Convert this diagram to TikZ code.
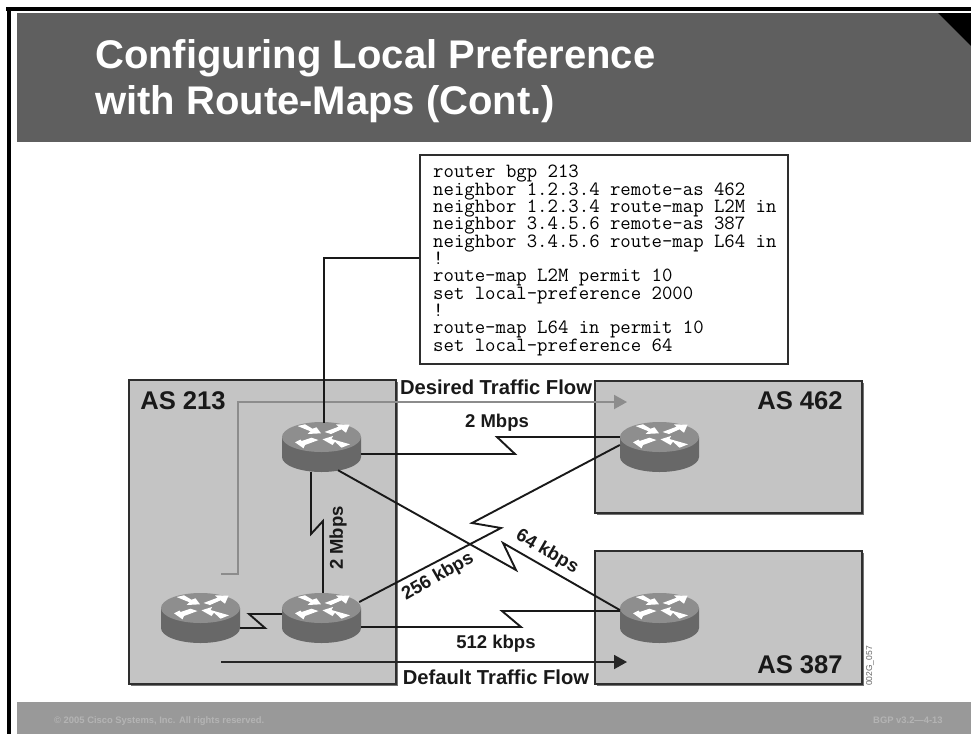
\documentclass[tikz,border=0pt]{standalone}
\usepackage{fontspec}
\setmainfont{Liberation Sans}
\usetikzlibrary{arrows.meta,calc}
\definecolor{hdr}{HTML}{5F5F5F}
\definecolor{ftr}{HTML}{999999}
\definecolor{ftxt}{HTML}{B4B4B4}
\definecolor{asbox}{HTML}{C4C4C4}
\definecolor{edge}{HTML}{2E2E2E}
\definecolor{rtop}{HTML}{8E8E8E}
\definecolor{rside}{HTML}{686868}
\definecolor{flowg}{HTML}{8C8C8C}
\tikzset{
  asregion/.style={fill=asbox,draw=edge,line width=1.2pt,inner sep=0pt},
  shadowbox/.style={fill=black!55,draw=none},
  aslabel/.style={font=\bfseries\fontsize{25.6}{28}\selectfont,anchor=base,inner sep=0pt,text=black!90},
  netlabel/.style={font=\bfseries\fontsize{20.2}{22}\selectfont,anchor=base,inner sep=0pt,text=black!90},
  baselabel/.style={font=\bfseries\fontsize{18.5}{20}\selectfont,anchor=base,inner sep=0pt,text=black!90},
  ratelabel/.style={font=\bfseries\fontsize{18.5}{20}\selectfont,inner sep=0pt,text=black!90},
  link/.style={draw=black!90,line width=1.9pt,line join=miter},
  feed/.style={draw=black!90,line width=2.6pt},
  routerbox/.style={minimum width=79pt,minimum height=50pt,inner sep=0pt,draw=none},
  flowdesired/.style={draw=flowg,line width=2pt,-{Triangle[length=13pt,width=14pt]}},
  flowdefault/.style={draw=black!85,line width=1.9pt,-{Triangle[length=13pt,width=14pt]}},
  foottext/.style={font=\bfseries\fontsize{9.4}{11}\selectfont,text=ftxt,inner sep=0pt,anchor=base},
}
\newcommand{\routerat}[3]{%
  \node[routerbox] (#1) at (#2,#3) {};
  \begin{scope}[shift={(#2,#3)}]
    \fill[rside] (-39.5,-10) -- (-39.5,10) arc[x radius=39.5,y radius=15,start angle=180,end angle=0] -- (39.5,-10) -- cycle;
    \fill[rtop] (0,-10) ellipse[x radius=39.5,y radius=15];
    \begin{scope}[shift={(0,-10)}]
      \fill[white] (-24,-11) -- (-16.5,-12.7) -- (-9,-8.3) -- (-5,-9.7) -- (-0.5,-3.7) -- (-14,-3) -- (-11,-5.7) -- cycle;
      \fill[white] (3,-5) -- (17,-10.3) -- (14.5,-12.7) -- (28,-12.3) -- (24.5,-4.3) -- (20,-7.7) -- (9.5,-3) -- cycle;
      \fill[white] (-10,0.7) -- (-20,4) -- (-21,2.5) -- (-26.5,5.3) -- (-18,11.3) -- (-16.5,8) -- (-3,3) -- cycle;
      \fill[white] (28.5,7.3) -- (20,10.7) -- (13.5,4.7) -- (11,8) -- (1,2.3) -- (11.5,-1) -- (10,2) -- cycle;
    \end{scope}
  \end{scope}
}
\begin{document}
\begin{tikzpicture}[x=1pt,y=-1pt]
\useasboundingbox (0,0) rectangle (971,734);
\fill[white] (0,0) rectangle (971,734);
% frame
\fill[black] (6,7) rectangle (971,11);
\fill[black] (7,7) rectangle (11,734);
% header and footer
\fill[hdr] (17,13) rectangle (971,142);
\fill[black] (938,13) -- (971,13) -- (971,46) -- cycle;
\fill[ftr] (17,702) rectangle (971,734);
\node[font=\bfseries\fontsize{40}{45}\selectfont,text=white,anchor=base west,inner sep=0pt] (title1) at (95,68) {Configuring Local Preference};
\node[font=\bfseries\fontsize{40}{45}\selectfont,text=white,anchor=base west,inner sep=0pt] (title2) at (95,114) {with Route-Maps (Cont.)};
\node[foottext,anchor=base west] (copy) at (54,723) {© 2005 Cisco Systems, Inc. All rights reserved.};
\node[foottext,anchor=base west] (ver) at (873,723) {BGP v3.2—4-13};
% AS regions
\fill[shadowbox] (131,382) rectangle (398,686);
\fill[shadowbox] (597,383) rectangle (864,515);
\fill[shadowbox] (597,553) rectangle (864,686);
\draw[asregion] (129,380) rectangle (396,684);
\draw[asregion] (595,381) rectangle (862,513);
\draw[asregion] (595,551) rectangle (862,684);
% code box
\fill[black!45] (421,156) rectangle (789,365);
\node[draw=edge,line width=1.2pt,fill=white,minimum width=368pt,minimum height=209pt,inner sep=0pt] (code) at (604,259.5) {};
\node[font=\ttfamily\fontsize{20.2}{17.35}\selectfont,align=left,anchor=north west,inner sep=0pt,text=black] (codetext) at (433,165) {router bgp 213\\neighbor 1.2.3.4 remote-as 462\\neighbor 1.2.3.4 route-map L2M in\\neighbor 3.4.5.6 remote-as 387\\neighbor 3.4.5.6 route-map L64 in\\!\\route-map L2M permit 10\\set local-preference 2000\\!\\route-map L64 in permit 10\\set local-preference 64};
% flows
\coordinate (ds) at (221,574);
\coordinate (de) at (627,402);
\coordinate (fs) at (221,662);
\coordinate (fe) at (627,662);
\draw[flowdesired] (ds) -- (238,574) -- (238,402) -- (de);
\draw[flowdefault] (fs) -- (fe);
% routers
\routerat{r1}{321.5}{447}
\routerat{r2}{321.5}{618}
\routerat{r3}{200.5}{618}
\routerat{r4}{659.5}{447}
\routerat{r5}{659.5}{618}
% links
\draw[feed] ([shift={(2.5,1)}]r1.north) -- ++(0,-165) coordinate (fk) -- (code.west |- fk);
\draw[link] ([shift={(0,7)}]r1.east) -- (515,454) -- (497,437) -- ([shift={(0,-10)}]r4.west);
\draw[link] ([shift={(-10.5,0)}]r1.south) -- (311,534) -- (323,521) -- ([shift={(1.5,0)}]r2.north);
\draw[link] ([shift={(16.5,-2)}]r1.south) -- (516,570) -- (503,543) -- ([shift={(0,-8)}]r5.west);
\draw[link] ([shift={(-2,-16)}]r2.east) -- (501,528) -- (472,523) -- ([shift={(0,-2)}]r4.west);
\draw[link] ([shift={(0,9)}]r2.east) -- (521,627) -- (502,611) -- ([shift={(0,-7)}]r5.west);
\draw[link] ([shift={(0,10)}]r3.east) -- (265,628) -- (249,614) -- ([shift={(0,-4)}]r2.west);
% labels
\node[aslabel] (as213) at (183,409) {AS 213};
\node[aslabel] (as462) at (800,409) {AS 462};
\node[aslabel] (as387) at (800,673) {AS 387};
\node[netlabel] (desired) at (496,394) {Desired Traffic Flow};
\node[netlabel] (default) at (496,684) {Default Traffic Flow};
\node[baselabel] (mb1) at (497,427) {2 Mbps};
\node[baselabel] (kb512) at (496,648) {512 kbps};
\node[ratelabel,rotate=90] (mb2) at (338,538) {2 Mbps};
\node[ratelabel,rotate=30] (kb256) at (438,577) {256 kbps};
\node[ratelabel,rotate=-30] (kb64) at (547,552) {64 kbps};
\node[font=\fontsize{8.5}{10}\selectfont,rotate=90,text=black!60,inner sep=0pt] (tag) at (870,666) {002G\_057};
\end{tikzpicture}
\end{document}
